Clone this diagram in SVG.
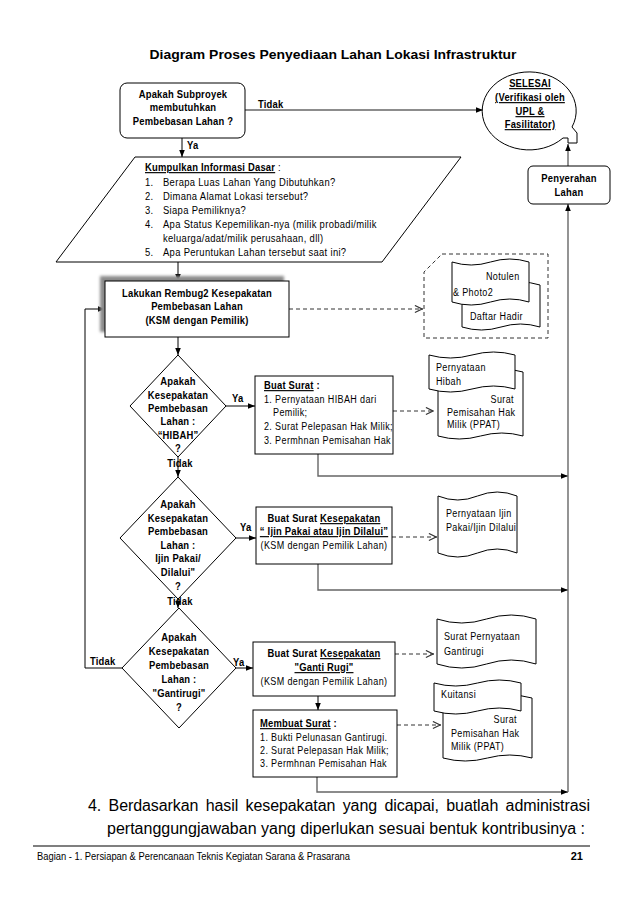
<svg xmlns="http://www.w3.org/2000/svg" width="638" height="903" viewBox="0 0 638 903">
<style>
text{font-family:"Liberation Sans",Arial,sans-serif;fill:#000;transform-box:fill-box;transform-origin:0 50%;transform:scaleX(.82)}
text.c{text-anchor:middle;transform-origin:50% 50%}
text.e{text-anchor:end;transform-origin:100% 50%}
text.w{transform:none}
.b{font-weight:bold;font-size:11.5px;letter-spacing:.25px}
.r{font-size:11px;letter-spacing:.45px}
.p{font-size:11.5px;letter-spacing:.4px}
.u{text-decoration:underline}
.shape{fill:#fff;stroke:#000;stroke-width:1}
.conn{fill:none;stroke:#000;stroke-width:1}
.gray{fill:none;stroke:#666;stroke-width:1.4}
.dash{fill:none;stroke:#333;stroke-width:1;stroke-dasharray:4 3}
</style>
<defs>
<marker id="ah" viewBox="0 0 10 10" refX="10" refY="5" markerWidth="7" markerHeight="7" markerUnits="userSpaceOnUse" orient="auto"><path d="M0,1 L10,5 L0,9 z" fill="#000"/></marker>
<marker id="oa" viewBox="0 0 10 10" refX="10" refY="5" markerWidth="9" markerHeight="9" markerUnits="userSpaceOnUse" orient="auto"><path d="M1,1 L9,5 L1,9" fill="none" stroke="#333" stroke-width="1.2"/></marker>
<filter id="blur" x="-10%" y="-10%" width="120%" height="120%"><feGaussianBlur stdDeviation="1.5"/></filter>
<clipPath id="cNot"><path d="M452,262 Q471.25,268 490.5,262 T529,262 L529,302 Q509.75,296 490.5,302 T452,302 Z"/></clipPath>
<clipPath id="cDaf"><path d="M462,285 Q481.5,291 501,285 T540,285 L540,327 Q520.5,321 501,327 T462,327 Z"/></clipPath>
<clipPath id="cHib"><path d="M429,355 Q450.5,361 472,355 T515,355 L515,389 Q493.5,383 472,389 T429,389 Z"/></clipPath>
</defs>
<rect width="638" height="903" fill="#fff"/>

<text x="333" y="59" class="c w" font-size="13" font-weight="bold" textLength="367" lengthAdjust="spacingAndGlyphs">Diagram Proses Penyediaan Lahan Lokasi Infrastruktur</text>

<g id="connectors">
<path class="gray" d="M245,110 H483" marker-end="url(#ah)"/>
<path class="conn" d="M182,138 V157" marker-end="url(#ah)"/>
<path class="conn" d="M178,262 V281" marker-end="url(#ah)"/>
<path class="conn" d="M178,337 V355" marker-end="url(#ah)"/>
<path class="conn" d="M178,457 V477" marker-end="url(#ah)"/>
<path class="conn" d="M178,599 V608" marker-end="url(#ah)"/>
<path class="conn" d="M122,668 H85 V309 H105" marker-end="url(#ah)"/>
<path class="conn" d="M226,406 H255" marker-end="url(#ah)"/>
<path class="conn" d="M236,538 H256" marker-end="url(#ah)"/>
<path class="conn" d="M236,668 H253" marker-end="url(#ah)"/>
<path class="conn" d="M318,696 V710" marker-end="url(#ah)"/>
<path class="gray" d="M318,454 V476 H568" marker-end="url(#ah)"/>
<path class="gray" d="M318,564 V590 H568" marker-end="url(#ah)"/>
<path class="gray" d="M317,777 V792 H568" marker-end="url(#ah)"/>
<path class="gray" d="M568,792 V204" marker-end="url(#ah)"/>
<path class="gray" d="M568,166 V144" marker-end="url(#ah)"/>
<path class="dash" d="M289,309 H423" marker-end="url(#oa)"/>
<path class="dash" d="M393,411 H434" marker-end="url(#oa)"/>
<path class="dash" d="M392,537 H437" marker-end="url(#oa)"/>
<path class="dash" d="M395,654 H434" marker-end="url(#oa)"/>
<path class="dash" d="M397,725 H441" marker-end="url(#oa)"/>
<text x="258" y="108" class="b">Tidak</text>
<text x="187" y="149" class="b">Ya</text>
<text x="232" y="402" class="b">Ya</text>
<text x="180" y="467" class="b c">Tidak</text>
<text x="240" y="531" class="b">Ya</text>
<text x="180" y="605" class="b c">Tidak</text>
<text x="90" y="665" class="b">Tidak</text>
<text x="233" y="666" class="b">Ya</text>
</g>

<g id="start">
<rect class="shape" x="120" y="83" width="125" height="55" rx="7"/>
<text x="183" y="98" class="b c">Apakah Subproyek</text>
<text x="183" y="111" class="b c">membutuhkan</text>
<text x="183" y="125" class="b c">Pembebasan Lahan ?</text>
</g>

<g id="selesai">
<path class="shape" d="M572,127 A47,39 0 1 0 563,138 L568,138 L568,143 L577,143 L577,133 Z"/>
<text x="530" y="87" class="b c u">SELESAI</text>
<text x="530" y="101" class="b c u">(Verifikasi oleh</text>
<text x="530" y="115" class="b c u">UPL &amp;</text>
<text x="530" y="128" class="b c u">Fasilitator)</text>
</g>

<g id="penyerahan">
<rect class="shape" x="528" y="166" width="82" height="38" rx="5"/>
<text x="569" y="182" class="b c">Penyerahan</text>
<text x="569" y="196" class="b c">Lahan</text>
</g>

<g id="informasi">
<path class="shape" d="M135,157 L461,157 L382,262 L56,262 Z"/>
<text x="145" y="171" class="b"><tspan class="u">Kumpulkan Informasi Dasar</tspan><tspan font-weight="normal">  :</tspan></text>
<text x="145" y="186" class="p">1.</text><text x="163" y="186" class="p">Berapa Luas Lahan Yang Dibutuhkan?</text>
<text x="145" y="200" class="p">2.</text><text x="163" y="200" class="p">Dimana Alamat Lokasi tersebut?</text>
<text x="145" y="214" class="p">3.</text><text x="163" y="214" class="p">Siapa Pemiliknya?</text>
<text x="145" y="228" class="p">4.</text><text x="163" y="228" class="p">Apa Status Kepemilikan-nya (milik probadi/milik</text>
<text x="163" y="242" class="p">keluarga/adat/milik perusahaan, dll)</text>
<text x="145" y="256" class="p" font-size="13">5.</text><text x="163" y="256" class="p">Apa Peruntukan Lahan tersebut saat ini?</text>
</g>

<g id="rembug">
<rect x="100" y="276" width="184" height="56" fill="#8a8a8a" filter="url(#blur)"/>
<rect class="shape" x="105" y="281" width="184" height="56"/>
<text x="197" y="297" class="b c">Lakukan Rembug2 Kesepakatan</text>
<text x="197" y="310" class="b c">Pembebasan Lahan</text>
<text x="197" y="324" class="b c">(KSM dengan Pemilik)</text>
</g>

<g id="dokumen-rembug">
<path class="dash" d="M442,254 H548 V338 H424 V272 Z"/>
<path class="shape" d="M462,285 Q481.5,291 501,285 T540,285 L540,327 Q520.5,321 501,327 T462,327 Z"/>
<g clip-path="url(#cDaf)"><text x="470" y="320" class="r">Daftar Hadir</text></g>
<path class="shape" d="M452,262 Q471.25,268 490.5,262 T529,262 L529,302 Q509.75,296 490.5,302 T452,302 Z"/>
<g clip-path="url(#cNot)">
<text x="486" y="280" class="r">Notulen</text>
<text x="453" y="296" class="r">&amp; Photo2</text>
</g>
</g>

<g id="hibah">
<path class="shape" d="M178,355 L226,406 L178,457 L130,406 Z"/>
<text x="178" y="385" class="b c">Apakah</text>
<text x="178" y="399" class="b c">Kesepakatan</text>
<text x="178" y="412" class="b c">Pembebasan</text>
<text x="178" y="425" class="b c">Lahan :</text>
<text x="178" y="439" class="b c">“HIBAH”</text>
<text x="178" y="452" class="b c">?</text>
</g>

<g id="surat-hibah">
<rect class="shape" x="255" y="376" width="138" height="78"/>
<text x="264" y="389" class="b"><tspan class="u">Buat Surat</tspan> :</text>
<text x="264" y="403" class="r">1. Pernyataan HIBAH dari</text>
<text x="273" y="416" class="r">Pemilik;</text>
<text x="264" y="430" class="r">2. Surat Pelepasan Hak Milik;</text>
<text x="264" y="444" class="r">3. Permhnan Pemisahan Hak</text>
</g>

<g id="dokumen-hibah">
<path class="shape" d="M438,372 Q459.25,378 480.5,372 T523,372 L523,436 Q501.75,430 480.5,436 T438,436 Z"/>
<text x="514" y="403" class="r e">Surat</text>
<text x="447" y="416" class="r">Pemisahan Hak</text>
<text x="447" y="428" class="r">Milik (PPAT)</text>
<path class="shape" d="M429,355 Q450.5,361 472,355 T515,355 L515,389 Q493.5,383 472,389 T429,389 Z"/>
<g clip-path="url(#cHib)">
<text x="436" y="371" class="r">Pernyataan</text>
<text x="436" y="385" class="r">Hibah</text>
</g>
</g>

<g id="ijin">
<path class="shape" d="M178,477 L236,538 L178,599 L120,538 Z"/>
<text x="178" y="508" class="b c">Apakah</text>
<text x="178" y="522" class="b c">Kesepakatan</text>
<text x="178" y="535" class="b c">Pembebasan</text>
<text x="178" y="549" class="b c">Lahan :</text>
<text x="178" y="562" class="b c">Ijin Pakai/</text>
<text x="178" y="576" class="b c">Dilalui"</text>
<text x="178" y="590" class="b c">?</text>
</g>

<g id="surat-ijin">
<rect class="shape" x="256" y="507" width="136" height="57"/>
<text x="324" y="522" class="b c">Buat Surat <tspan class="u">Kesepakatan</tspan></text>
<text x="324" y="535" class="b c u">“ Ijin Pakai atau Ijin Dilalui”</text>
<text x="324" y="549" class="r c">(KSM dengan Pemilik Lahan)</text>
</g>

<g id="dokumen-ijin">
<path class="shape" d="M438,496 Q457.75,504 477.5,496 T517,496 L517,553 Q497.25,545 477.5,553 T438,553 Z"/>
<text x="446" y="517" class="r">Pernyataan Ijin</text>
<text x="446" y="531" class="r">Pakai/Ijin Dilalui</text>
</g>

<g id="gantirugi">
<path class="shape" d="M179,608 L236,668 L179,728 L122,668 Z"/>
<text x="179" y="641" class="b c">Apakah</text>
<text x="179" y="655" class="b c">Kesepakatan</text>
<text x="179" y="669" class="b c">Pembebasan</text>
<text x="179" y="683" class="b c">Lahan :</text>
<text x="179" y="697" class="b c">"Gantirugi"</text>
<text x="179" y="711" class="b c">?</text>
</g>

<g id="surat-gantirugi">
<rect class="shape" x="253" y="642" width="142" height="54"/>
<text x="324" y="657" class="b c">Buat Surat <tspan class="u">Kesepakatan</tspan></text>
<text x="324" y="671" class="b c u">"Ganti Rugi"</text>
<text x="324" y="685" class="r c">(KSM dengan Pemilik Lahan)</text>
</g>

<g id="dokumen-gantirugi">
<path class="shape" d="M437,619 Q461.75,627 486.5,619 T536,619 L536,664 Q511.25,656 486.5,664 T437,664 Z"/>
<text x="444" y="640" class="r">Surat Pernyataan</text>
<text x="444" y="655" class="r">Gantirugi</text>
</g>

<g id="membuat-surat">
<rect class="shape" x="253" y="710" width="144" height="67"/>
<text x="260" y="727" class="b"><tspan class="u">Membuat Surat</tspan> :</text>
<text x="260" y="741" class="r">1. Bukti Pelunasan Gantirugi.</text>
<text x="260" y="754" class="r">2. Surat Pelepasan Hak Milik;</text>
<text x="260" y="767" class="r">3. Permhnan Pemisahan Hak</text>
</g>

<g id="dokumen-kuitansi">
<path class="shape" d="M443,698 Q465.25,704 487.5,698 T532,698 L532,758 Q509.75,752 487.5,758 T443,758 Z"/>
<text x="517" y="723" class="r e">Surat</text>
<text x="451" y="737" class="r">Pemisahan Hak</text>
<text x="451" y="750" class="r">Milik (PPAT)</text>
<path class="shape" d="M434,683 Q455.75,689 477.5,683 T521,683 L521,711 Q499.25,705 477.5,711 T434,711 Z"/>
<text x="441" y="698" class="r">Kuitansi</text>
</g>

<text x="88" y="811" class="w" font-size="16" word-spacing="3" textLength="502" lengthAdjust="spacing">4. Berdasarkan hasil kesepakatan yang dicapai, buatlah administrasi</text>
<text x="107" y="834" class="w" font-size="16" textLength="478" lengthAdjust="spacing">pertanggungjawaban yang diperlukan sesuai bentuk kontribusinya :</text>
<line x1="33" y1="846" x2="590" y2="846" stroke="#000" stroke-width="1.2"/>
<text x="37" y="860" class="w" font-size="10.5" textLength="313" lengthAdjust="spacingAndGlyphs">Bagian - 1.  Persiapan &amp; Perencanaan Teknis Kegiatan Sarana &amp; Prasarana</text>
<text x="583" y="860" class="w" font-size="11" font-weight="bold" text-anchor="end">21</text>
</svg>
